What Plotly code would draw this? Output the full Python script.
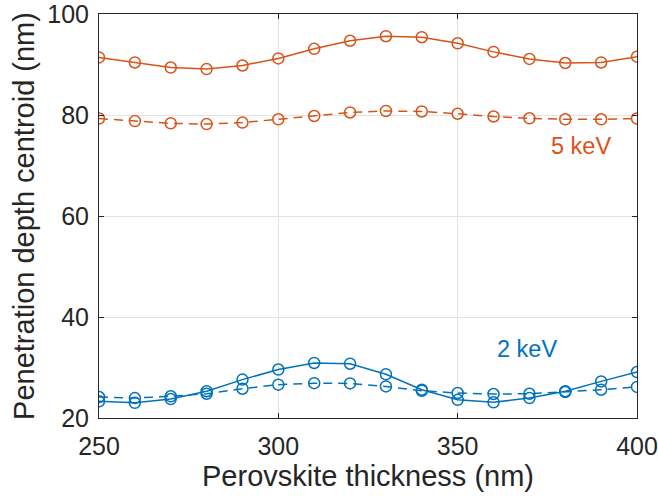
import plotly.graph_objects as go

# Perovskite thickness (nm)
thickness = [250, 260, 270, 280, 290, 300, 310, 320, 330, 340, 350, 360, 370, 380, 390, 400]

# Penetration depth centroid (nm) for each beam energy / model
kev5_solid = [91.4, 90.4, 89.4, 89.1, 89.8, 91.2, 93.1, 94.7, 95.6, 95.4, 94.2, 92.5, 91.1, 90.3, 90.4, 91.55]
kev5_dash = [79.3, 78.8, 78.35, 78.2, 78.5, 79.15, 79.8, 80.5, 80.8, 80.7, 80.25, 79.7, 79.35, 79.15, 79.15, 79.3]
kev2_solid = [23.3, 23.0, 23.75, 25.3, 27.6, 29.6, 30.9, 30.75, 28.65, 25.6, 23.6, 23.1, 23.95, 25.3, 27.25, 29.1]
kev2_dash = [24.15, 23.95, 24.3, 24.8, 25.8, 26.6, 26.9, 26.85, 26.25, 25.4, 24.95, 24.75, 24.8, 25.15, 25.6, 26.15]

x_ticks = [250, 300, 350, 400]
y_ticks = [20, 40, 60, 80, 100]

ORANGE = "#D95319"
BLUE = "#0072BD"
AXIS = "#262626"
FONT = "Liberation Sans, Arial, sans-serif"

fig = go.Figure()

def add_series(y, color, dash):
    fig.add_trace(go.Scatter(
        x=thickness, y=y, mode="lines+markers",
        line=dict(color=color, width=1.5, dash=dash),
        marker=dict(symbol="circle-open", size=11, color=color, line=dict(width=1.5, color=color)),
        showlegend=False,
    ))

add_series(kev5_solid, ORANGE, "solid")
add_series(kev5_dash, ORANGE, "9px,6px")
add_series(kev2_solid, BLUE, "solid")
add_series(kev2_dash, BLUE, "9px,6px")

fig.add_annotation(x=0.955, y=0.673, xref="paper", yref="paper", text="5 keV",
                   showarrow=False, font=dict(family=FONT, size=23.5, color=ORANGE),
                   xanchor="right", yanchor="middle")
fig.add_annotation(x=0.855, y=0.17, xref="paper", yref="paper", text="2 keV",
                   showarrow=False, font=dict(family=FONT, size=23.5, color=BLUE),
                   xanchor="right", yanchor="middle")

axis_common = dict(
    showline=True, linecolor=AXIS, linewidth=1, mirror="ticks",
    ticks="inside", ticklen=5, tickcolor=AXIS, tickwidth=1,
    showgrid=True, gridcolor="#E3E3E3", gridwidth=1,
    zeroline=False, ticklabeloverflow="allow", automargin=False,
    tickfont=dict(family=FONT, size=25, color=AXIS),
)

fig.update_xaxes(range=[250, 400], tickvals=x_ticks, ticklabelstandoff=6,
                 title=dict(text="Perovskite thickness (nm)", standoff=4,
                            font=dict(family=FONT, size=29, color=AXIS)),
                 **axis_common)
fig.update_yaxes(range=[20, 100], tickvals=y_ticks, ticklabelstandoff=4,
                 title=dict(text="Penetration depth centroid (nm)", standoff=4,
                            font=dict(family=FONT, size=29, color=AXIS)),
                 **axis_common)

fig.update_layout(
    width=658, height=500,
    margin=dict(l=99, r=21, t=14, b=82),
    paper_bgcolor="white", plot_bgcolor="white",
)

fig.write_html("out.html")
